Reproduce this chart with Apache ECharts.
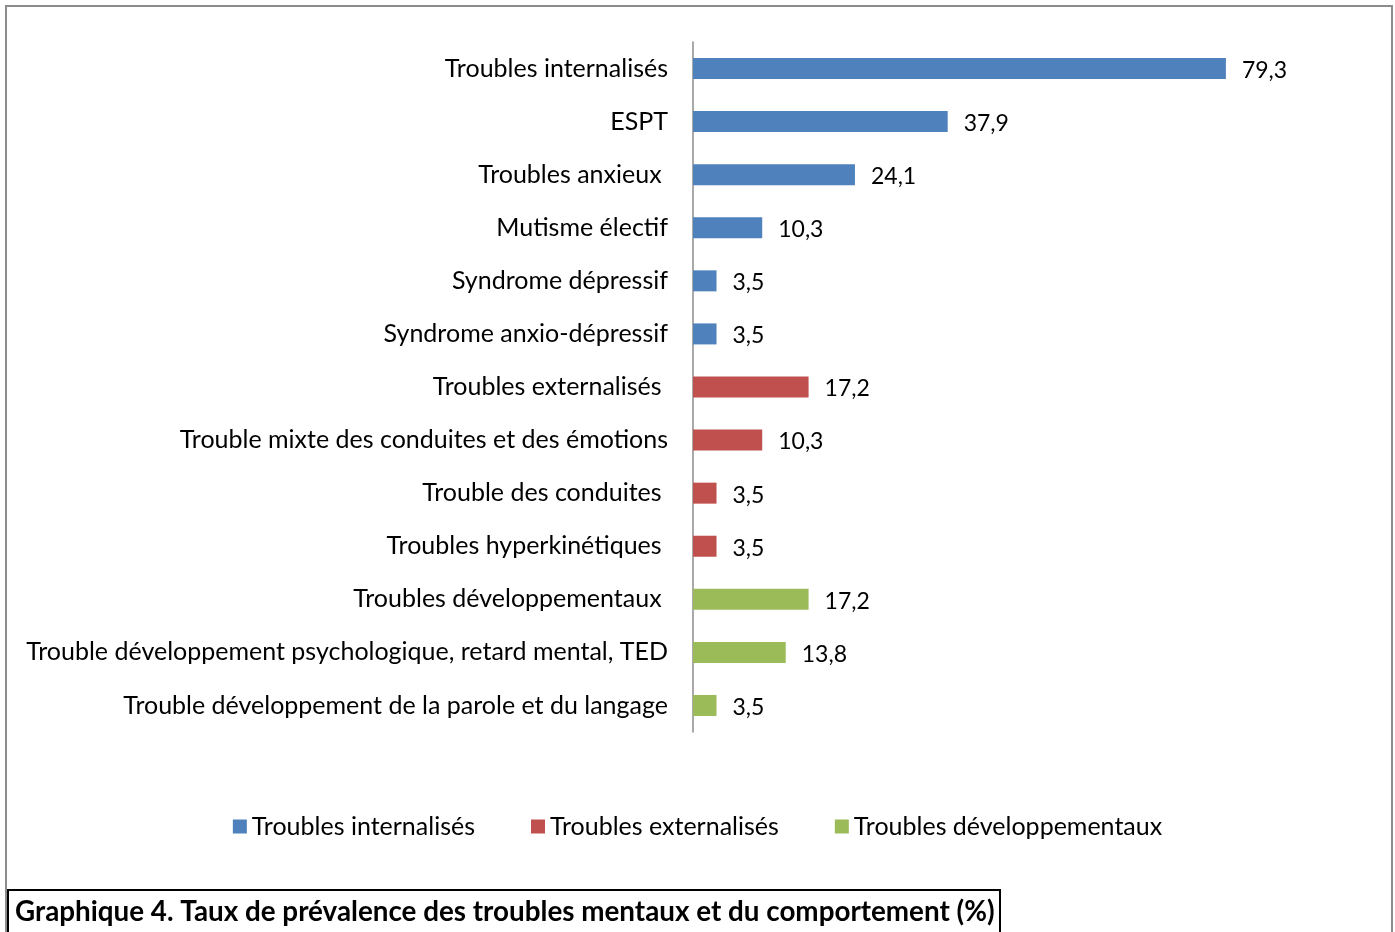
<!DOCTYPE html>
<html>
<head>
<meta charset="utf-8">
<script src="https://cdn.jsdelivr.net/npm/echarts@6/dist/echarts.min.js"></script>
<style>
  html, body { margin: 0; padding: 0; background: #fff; }
  #chart { width: 1395px; height: 932px; }
</style>
</head>
<body>
<div id="chart"></div>
<script>
// catégories (de haut en bas)
const categories = [
  'Troubles internalisés',
  'ESPT',
  'Troubles anxieux ',
  'Mutisme électif',
  'Syndrome dépressif',
  'Syndrome anxio-dépressif',
  'Troubles externalisés ',
  'Trouble mixte des conduites et des émotions',
  'Trouble des conduites ',
  'Troubles hyperkinétiques ',
  'Troubles développementaux ',
  'Trouble développement psychologique, retard mental, TED',
  'Trouble développement de la parole et du langage'
]
// taux (%)
const values = [79.3, 37.9, 24.1, 10.3, 3.5, 3.5, 17.2, 10.3, 3.5, 3.5, 17.2, 13.8, 3.5]
// groupe de chaque catégorie (index dans seriesNames)
const groupOf = [0, 0, 0, 0, 0, 0, 1, 1, 1, 1, 2, 2, 2]
const seriesNames = ['Troubles internalisés', 'Troubles externalisés', 'Troubles développementaux']
const seriesColors = ['#4F81BD', '#C0504D', '#9BBB59']

const font = 'Lato'

const series = seriesNames.map((name, g) => ({
  name: name,
  type: 'bar',
  stack: 'all',
  barWidth: 21,
  itemStyle: { color: seriesColors[g] },
  label: {
    show: true,
    position: 'right',
    distance: 16,
    offset: [0, 2],
    color: '#000',
    fontFamily: font,
    fontSize: 23,
    formatter: p => p.value.toFixed(1).replace('.', ',')
  },
  data: values.map((v, i) => groupOf[i] === g ? v : null)
}))

echarts.init(document.getElementById('chart')).setOption({
  animation: false,
  title: {
    text: 'Graphique 4. Taux de prévalence des troubles mentaux et du comportement (%)',
    left: 8,
    top: 890,
    padding: [8, 6, 12, 7],
    borderColor: '#000',
    borderWidth: 2,
    textStyle: { fontFamily: font, fontSize: 27.8, fontWeight: 'bold', color: '#000' }
  },
  graphic: [{
    type: 'rect',
    shape: { x: 6, y: 6, width: 1386, height: 940 },
    style: { fill: 'none', stroke: '#8c8c8c', lineWidth: 2 },
    silent: true
  }],
  legend: {
    top: 809,
    left: 'center',
    icon: 'rect',
    itemWidth: 14,
    itemHeight: 14,
    itemGap: 56,
    textStyle: { fontFamily: font, fontSize: 25, color: '#000' },
    data: seriesNames
  },
  grid: { left: 693, right: 30, top: 42, bottom: 200 },
  xAxis: {
    type: 'value',
    min: 0,
    max: 100,
    show: false
  },
  yAxis: {
    type: 'category',
    inverse: true,
    data: categories,
    axisLine: { lineStyle: { color: '#8c8c8c', width: 1.5 } },
    axisTick: { show: false },
    axisLabel: { margin: 25, color: '#000', fontFamily: font, fontSize: 25 }
  },
  series: series
})
</script>
</body>
</html>
